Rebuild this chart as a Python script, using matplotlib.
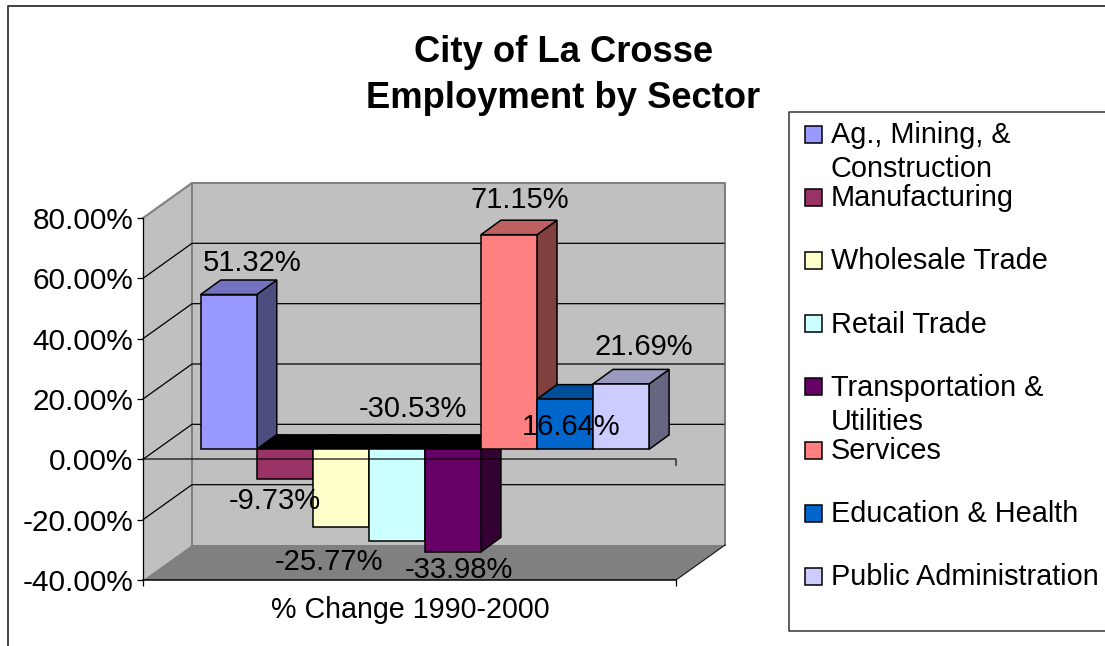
import matplotlib
matplotlib.use('Agg')
import matplotlib.pyplot as plt

plt.rcParams['font.family'] = ['Liberation Sans', 'DejaVu Sans']

categories = ['Ag., Mining, &\nConstruction', 'Manufacturing', 'Wholesale Trade', 'Retail Trade',
              'Transportation &\nUtilities', 'Services', 'Education & Health', 'Public Administration']
values = [51.32, -9.73, -25.77, -30.53, -33.98, 71.15, 16.64, 21.69]
colors = ['#9999FF', '#993366', '#FFFFCC', '#CCFFFF', '#660066', '#FF8080', '#0066CC', '#CCCCFF']
y_ticks = [-40, -20, 0, 20, 40, 60, 80]

# label offsets from the bar end, in pixels
label_offsets = [(23, 32), (-10, -22), (-12, -35), (16, 132), (6, -18), (11, 35), (6, -28), (23, 37)]

W, H = 1105, 646
X0, X1, Y0, Y1 = 143, 676, 580, 218   # front plane of the chart, pixels
PX_PER_CAT = 56.05
PX_PER_PCT = (Y0 - Y1) / 120
TEXT_SIZE = 21

# depth of the fake 3d, in data units
wall_dx = 49 / PX_PER_CAT
wall_dy = 35 / PX_PER_PCT
bar_dx = 20 / PX_PER_CAT
bar_dy = 14.5 / PX_PER_PCT
base_y = 10 / PX_PER_PCT


def shade(col, f):
    rgb = matplotlib.colors.to_rgb(col)
    return tuple(c * f for c in rgb)


fig = plt.figure(figsize=(W / 100, H / 100), dpi=100)

# overlay in pixels for the chart frame and the legend box
page = fig.add_axes([0, 0, 1, 1], zorder=0)
page.set_xlim(0, W)
page.set_ylim(H, 0)
page.axis('off')
page.plot([8, 8, W], [H, 5.5, 5.5], color='#333333', lw=1.3, clip_on=False)
page.plot([W, 788.5, 788.5, W], [112, 112, 630.5, 630.5], color='#333333', lw=1.1, clip_on=False)

page.text(563.5, 52, 'City of La Crosse', ha='center', va='center', fontsize=26.2, fontweight='bold')
page.text(563.5, 98, 'Employment by Sector', ha='center', va='center', fontsize=26.2, fontweight='bold')

# legend
for i, name in enumerate(categories):
    yc = 134 + 63.2 * i
    page.add_patch(plt.Rectangle((805, yc - 8.5), 17, 17, facecolor=colors[i], edgecolor='black', lw=1.1))
    for j, line in enumerate(name.split('\n')):
        page.text(831, yc + 34 * j + 1, line, ha='left', va='center', fontsize=20.8)

ax = fig.add_axes([X0 / W, 1 - Y0 / H, (X1 - X0) / W, (Y0 - Y1) / H], zorder=1)
ax.patch.set_visible(False)
xl = -0.5 - (200.7 - X0) / PX_PER_CAT
xr = xl + (X1 - X0) / PX_PER_CAT
ax.set_xlim(xl, xr)
ax.set_ylim(-40, 80)

# walls and floor
wall = '#C0C0C0'
edge = '#808080'
ax.fill([xl + wall_dx, xr + wall_dx, xr + wall_dx, xl + wall_dx],
        [-40 + wall_dy, -40 + wall_dy, 80 + wall_dy, 80 + wall_dy],
        color=wall, lw=0, clip_on=False, zorder=1)
ax.fill([xl, xl + wall_dx, xl + wall_dx, xl],
        [-40, -40 + wall_dy, 80 + wall_dy, 80],
        color=wall, lw=0, clip_on=False, zorder=1)
ax.fill([xl, xr, xr + wall_dx, xl + wall_dx],
        [-40, -40, -40 + wall_dy, -40 + wall_dy],
        color=edge, lw=0, clip_on=False, zorder=1)
ax.plot([xl, xl + wall_dx, xr + wall_dx, xr + wall_dx],
        [80, 80 + wall_dy, 80 + wall_dy, -40 + wall_dy],
        color=edge, lw=1.5, clip_on=False, zorder=1.2)
ax.plot([xl + wall_dx, xl + wall_dx], [80 + wall_dy, -40 + wall_dy],
        color=edge, lw=1.5, clip_on=False, zorder=1.2)
ax.plot([xr, xr + wall_dx], [-40, -40 + wall_dy], color='#222222', lw=0.9, clip_on=False, zorder=1.3)

# gridlines, left wall and back wall
for t in y_ticks[1:-1]:
    ax.plot([xl, xl + wall_dx, xr + wall_dx - 0.02],
            [t, t + wall_dy, t + wall_dy],
            color='black', lw=0.9, clip_on=False, zorder=1.5)

# bars
for i, v in enumerate(values):
    z = 3 + i
    right = i + 0.5
    left = i - 0.5
    top = base_y + max(v, 0)
    low = base_y + min(v, 0)
    ax.fill([right, right + bar_dx, right + bar_dx, right],
            [low, low + bar_dy, top + bar_dy, top],
            facecolor=shade(colors[i], 0.5), edgecolor='black', lw=1.1, clip_on=False, zorder=z)
    top_col = 'black' if v < 0 else shade(colors[i], 0.75)
    ax.fill([left, right, right + bar_dx, left + bar_dx],
            [top, top, top + bar_dy, top + bar_dy],
            facecolor=top_col, edgecolor='black', lw=1.1, clip_on=False, zorder=z)
    ax.bar(i, v, bottom=base_y, width=1, color=colors[i], edgecolor='black', lw=1.1,
           clip_on=False, zorder=z)

# zero line sits in front of the bars
ax.plot([xl, xr, xr], [0, 0, -2], color='black', alpha=0.7, lw=1.2, clip_on=False, zorder=20)

# data labels
for i, v in enumerate(values):
    ax.annotate(f'{v:.2f}%', (i, base_y + v), xytext=label_offsets[i], textcoords='offset pixels',
                ha='center', va='center', fontsize=TEXT_SIZE, zorder=30, annotation_clip=False)

for s in ['top', 'right']:
    ax.spines[s].set_visible(False)
ax.spines['left'].set_linewidth(0.9)
ax.spines['bottom'].set_linewidth(1.1)
ax.spines['left'].set_zorder(2)
ax.spines['bottom'].set_zorder(2)

ax.set_yticks(y_ticks)
ax.set_yticklabels([f'{t:.2f}%' for t in y_ticks], fontsize=21.4)
ax.set_xticks([xl, xr])
ax.set_xticklabels(['', ''])
ax.tick_params(axis='y', length=4, width=0.9, pad=3)
ax.tick_params(axis='x', length=4, width=0.9)
page.text(410.5, 610.5, '% Change 1990-2000', ha='center', va='center', fontsize=20.6)

fig.savefig('out.png', dpi=100)
